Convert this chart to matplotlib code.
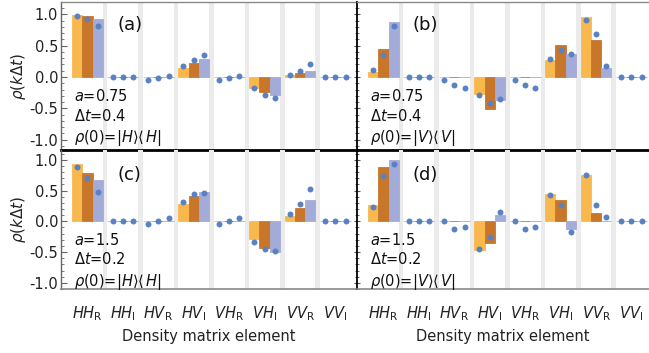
import matplotlib
matplotlib.use("Agg")
import matplotlib.pyplot as plt
import numpy as np

# ---------------- data ----------------
categories = [r"$HH_\mathrm{R}$", r"$HH_\mathrm{I}$", r"$HV_\mathrm{R}$", r"$HV_\mathrm{I}$",
              r"$VH_\mathrm{R}$", r"$VH_\mathrm{I}$", r"$VV_\mathrm{R}$", r"$VV_\mathrm{I}$"]
yticks = [-1.0, -0.5, 0.0, 0.5, 1.0]
ytick_labels = ["-1.0", "-0.5", "0.0", "0.5", "1.0"]

# panel (a): a=0.75, dt=0.4, rho(0)=|H><H|  (k = 1, 2, 3)
bars_a = [[0.99, 0, 0, 0.15, 0, -0.17, 0.03, 0],
          [0.97, 0, 0, 0.23, 0, -0.245, 0.06, 0],
          [0.93, 0, 0, 0.28, 0, -0.29, 0.10, 0]]
dots_a = [[0.97, 0, -0.04, 0.18, -0.04, -0.175, 0.03, 0],
          [0.92, 0, -0.02, 0.27, -0.02, -0.28, 0.10, 0],
          [0.81, 0, 0.02, 0.35, 0.01, -0.335, 0.21, 0]]
# panel (b): a=0.75, dt=0.4, rho(0)=|V><V|
bars_b = [[0.08, 0, 0, -0.27, 0, 0.27, 0.95, 0],
          [0.44, 0, 0, -0.51, 0, 0.51, 0.59, 0],
          [0.87, 0, 0, -0.37, 0, 0.36, 0.15, 0]]
dots_b = [[0.11, 0, -0.04, -0.29, -0.04, 0.29, 0.91, 0],
          [0.35, 0, -0.12, -0.415, -0.12, 0.43, 0.68, 0],
          [0.82, 0, -0.175, -0.345, -0.175, 0.36, 0.18, 0]]
# panel (c): a=1.5, dt=0.2, rho(0)=|H><H|
bars_c = [[0.925, 0, 0, 0.29, 0, -0.29, 0.08, 0],
          [0.786, 0, 0, 0.42, 0, -0.43, 0.22, 0],
          [0.674, 0, 0, 0.48, 0, -0.50, 0.34, 0]]
dots_c = [[0.88, 0, -0.05, 0.32, -0.05, -0.34, 0.12, 0],
          [0.706, 0, 0.01, 0.44, 0.005, -0.45, 0.29, 0],
          [0.476, 0, 0.05, 0.46, 0.05, -0.48, 0.52, 0]]
# panel (d): a=1.5, dt=0.2, rho(0)=|V><V|
bars_d = [[0.26, 0, 0, -0.47, 0, 0.44, 0.76, 0],
          [0.88, 0, 0, -0.36, 0, 0.34, 0.13, 0],
          [1.00, 0, 0, 0.10, 0, -0.12, 0.01, 0]]
dots_d = [[0.235, 0, 0, -0.45, 0, 0.43, 0.75, 0],
          [0.73, 0, -0.13, -0.26, -0.13, 0.26, 0.27, 0],
          [0.93, 0, -0.09, 0.15, -0.09, -0.17, 0.07, 0]]

panel_labels = ["(a)", "(b)", "(c)", "(d)"]
a_text = [r"$a$=0.75", r"$a$=0.75", r"$a$=1.5", r"$a$=1.5"]
dt_text = [r"$\mathit{\Delta t}$=0.4", r"$\mathit{\Delta t}$=0.4",
           r"$\mathit{\Delta t}$=0.2", r"$\mathit{\Delta t}$=0.2"]
rho_text = [r"$\rho$(0)=$|H\rangle\langle\, H|$", r"$\rho$(0)=$|V\rangle\langle\, V|$",
            r"$\rho$(0)=$|H\rangle\langle\, H|$", r"$\rho$(0)=$|V\rangle\langle\, V|$"]

# ---------------- style ----------------
bar_colors = ["#F8B84E", "#C8762A", "#A3ABD9"]
dot_color = "#5A82C2"
band_color = "#EBEBEB"
plt.rcParams["mathtext.fontset"] = "dejavusans"

W, H = 649, 353
fig = plt.figure(figsize=(W / 100, H / 100), dpi=100)

def px_axes(x0, x1, y0, y1):
    return fig.add_axes([x0 / W, 1 - y1 / H, (x1 - x0) / W, (y1 - y0) / H])

gap = 0.44
pitch = 3 + gap
unit_px = 10.3
offset_px = 11

panels = [
    (bars_a, dots_a, (61, 357, 2, 150), (-1.164, 1.196), True, False),
    (bars_b, dots_b, (357, 649, 2, 150), (-1.164, 1.196), False, False),
    (bars_c, dots_c, (61, 357, 150, 289), (-1.057, 1.16), True, True),
    (bars_d, dots_d, (357, 649, 150, 289), (-1.057, 1.16), False, True),
]

ncat = len(categories)
for p, (bars, dots, box, ylim, is_left, is_bottom) in enumerate(panels):
    x0, x1, y0, y1 = box
    ax = px_axes(x0, x1, y0, y1)
    ax.set_facecolor("none")
    xmin = -offset_px / unit_px
    xmax = (x1 - x0 - offset_px) / unit_px
    ax.set_xlim(xmin, xmax)
    ax.set_ylim(*ylim)

    # grey separator bands
    for i in range(ncat - 1):
        ax.axvspan(i * pitch + 3, i * pitch + 3 + gap, color=band_color, lw=0, zorder=0)

    for k in range(3):
        xs = np.arange(ncat) * pitch + k + 0.5
        ax.bar(xs, bars[k], width=1.0, color=bar_colors[k], edgecolor=bar_colors[k],
               linewidth=0.6, zorder=2)
        ax.plot(xs, dots[k], "o", color=dot_color, markersize=4.3, markeredgewidth=0, zorder=3)

    # spines
    ax.spines["right"].set_visible(False)
    ax.spines["top"].set_visible(not is_bottom)
    ax.spines["top"].set_color("#8A8A8A")
    ax.spines["top"].set_linewidth(1.0)
    if is_bottom:
        ax.spines["bottom"].set_color("#8A8A8A")
        ax.spines["bottom"].set_linewidth(1.2)
    else:
        ax.spines["bottom"].set_color("black")
        ax.spines["bottom"].set_linewidth(2.0)

    ax.set_yticks(yticks)
    ax.set_yticks(np.arange(-1.1, 1.15, 0.1), minor=True)
    if is_left:
        ax.spines["left"].set_color("#666666")
        ax.spines["left"].set_linewidth(1.0)
        ax.set_yticklabels(ytick_labels, fontsize=10.5, color="#222222")
        ax.tick_params(axis="y", which="major", direction="in", length=4, width=0.8,
                       color="#666666", pad=2)
        ax.tick_params(axis="y", which="minor", direction="in", length=2, width=0.6,
                       color="#666666")
        ax.set_ylabel(r"$\rho(k\mathit{\Delta} t)$", fontsize=11, labelpad=1, color="#222222")
    else:
        ax.spines["left"].set_color("black")
        ax.spines["left"].set_linewidth(1.3)
        ax.set_yticklabels([])
        ax.tick_params(axis="y", which="major", direction="inout", length=5, width=0.8,
                       color="#555555")
        ax.tick_params(axis="y", which="minor", direction="inout", length=3, width=0.6,
                       color="#555555")

    if is_bottom:
        ax.set_xticks(np.arange(ncat) * pitch + 1.5)
        ax.set_xticklabels(categories, fontsize=10.5, color="#222222")
        ax.tick_params(axis="x", length=0, pad=11)
        ax.set_xlabel("Density matrix element", fontsize=10.5, labelpad=4, color="#222222")
    else:
        ax.set_xticks([])

    # annotations
    ax.text(5.6, 0.76 if is_bottom else 0.83,
            panel_labels[p], fontsize=13, ha="center", va="center", color="#111111")
    tx = 0.15
    ax.text(tx, -0.30, a_text[p], fontsize=10.5, va="center", color="#111111")
    ax.text(tx, -0.62, dt_text[p], fontsize=10.5, va="center", color="#111111")
    ax.text(tx, -0.98, rho_text[p], fontsize=10.5, va="center", color="#111111")

fig.savefig("out.png", dpi=100)
